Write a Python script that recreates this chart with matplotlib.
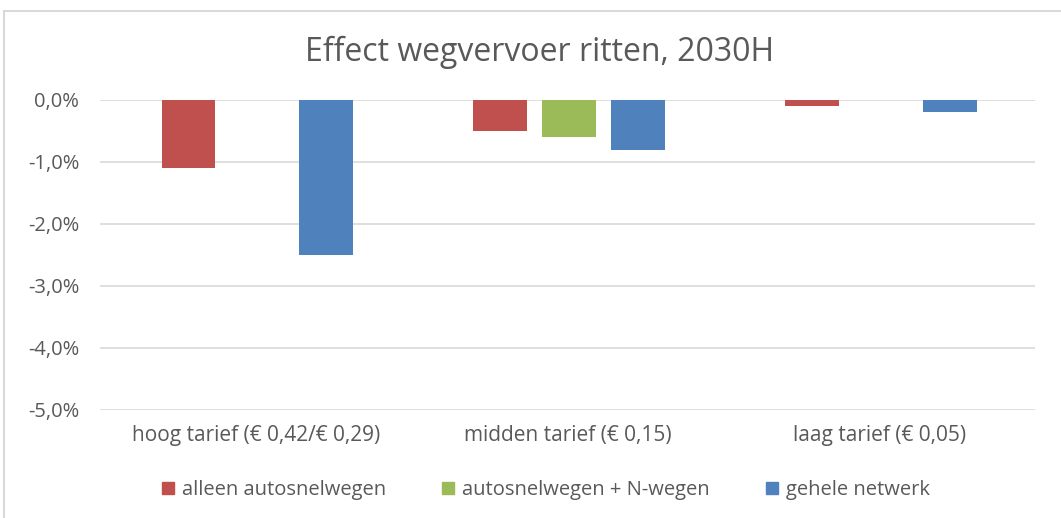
import matplotlib
matplotlib.use("Agg")
import matplotlib.pyplot as plt
import numpy as np
from matplotlib.patches import Rectangle, Patch

categories = ["hoog tarief (€ 0,42/€ 0,29)", "midden tarief (€ 0,15)", "laag tarief (€ 0,05)"]
series = ["alleen autosnelwegen", "autosnelwegen + N-wegen", "gehele netwerk"]
alleen = [-1.1, -0.5, -0.1]
n_wegen = [0.0, -0.6, 0.0]
gehele = [-2.5, -0.8, -0.2]
colors = ["#C0504D", "#9BBB59", "#4F81BD"]
yticks = [0, -1, -2, -3, -4, -5]

plt.rcParams['font.family'] = ['Open Sans', 'DejaVu Sans']
txt = "#595959"

fig = plt.figure(figsize=(10.61, 5.18), dpi=100)
W, H = 1061, 518
# chart frame (cropped at right/bottom)
fig.patches.append(Rectangle((4 / W, -0.1), 1.2, 1 - 11 / H + 0.1, transform=fig.transFigure,
                             fill=False, edgecolor="#D9D9D9", linewidth=1.5))

ax = fig.add_axes([100 / W, 1 - 410 / H, 935 / W, 310 / H])
x = np.arange(len(categories))
bw = 0.173
off = 0.221
for i, (vals, name) in enumerate(zip([alleen, n_wegen, gehele], series)):
    ax.bar(x + (i - 1) * off + 0.005, vals, width=bw, color=colors[i], label=name, zorder=3)

ax.set_xlim(-0.5, 2.5)
ax.set_ylim(-5, 0)
ax.set_yticks(yticks)
ax.set_yticklabels([f"{v:.1f}%".replace(".", ",") for v in yticks])
for v in yticks:
    ax.axhline(v, color="#D9D9D9", linewidth=1.2, zorder=1)
ax.set_xticks(x)
ax.set_xticklabels(categories)
for s in ax.spines.values():
    s.set_visible(False)
ax.tick_params(axis="y", length=0, pad=15, labelsize=14.5, labelcolor=txt)
ax.tick_params(axis="x", length=0, pad=11, labelsize=15, labelcolor=txt)

fig.text(540 / W, 1 - 52 / H, "Effect wegvervoer ritten, 2030H", ha="center", va="center",
         fontsize=23, color=txt)

handles = [Patch(color=c, label=s) for c, s in zip(colors, series)]
fig.legend(handles=handles, loc="center", bbox_to_anchor=(546 / W, 1 - 490 / H), ncol=3,
           frameon=False, fontsize=14.5, labelcolor=txt, handlelength=0.6, handleheight=0.6,
           handletextpad=0.4, columnspacing=2.8)

fig.savefig("out.png", dpi=100)
